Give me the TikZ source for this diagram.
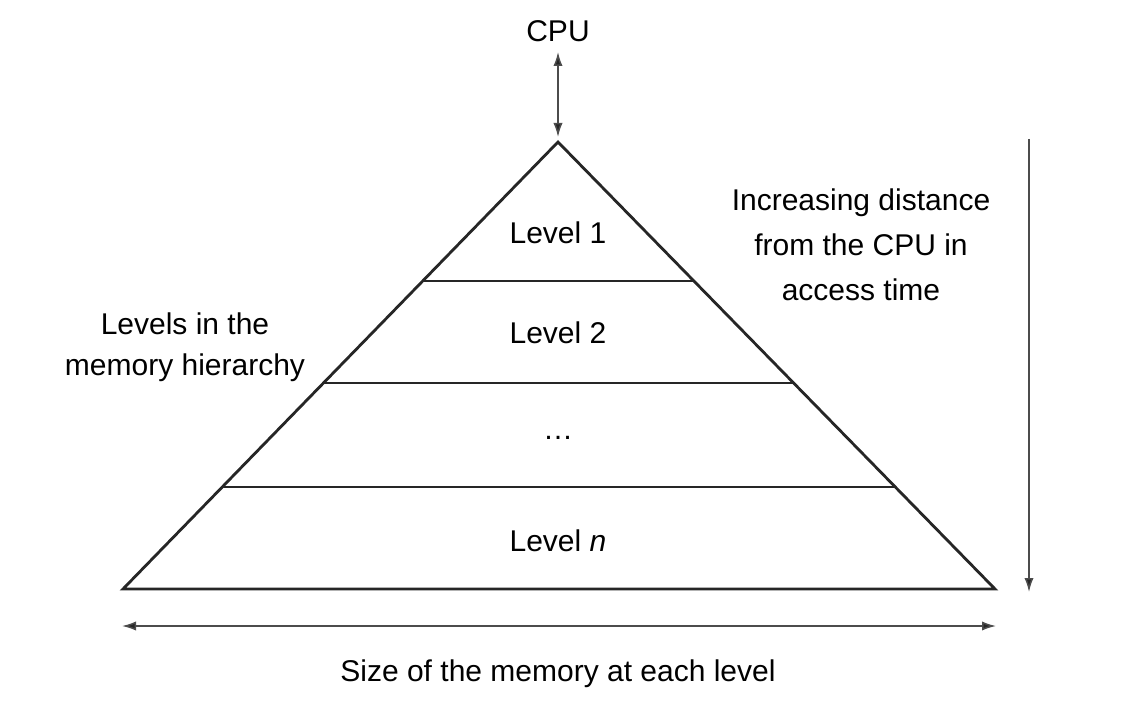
\documentclass[tikz,border=0pt]{standalone}
\usepackage{fontspec}
\setmainfont{Liberation Sans}
\usetikzlibrary{positioning,calc,arrows.meta}

\begin{document}
\begin{tikzpicture}[x=0.5pt,y=-0.5pt,font=\fontsize{15}{18}\selectfont]
  % canvas: 1142 x 722 (pixel grid, y downward)
  \useasboundingbox (0,0) rectangle (1142,722);
  \tikzset{wall/.style={draw=black!85,line width=1.4pt,line join=miter},
           tier/.style={draw=black!85,line width=1.4pt},
           dimline/.style={draw=black!70,line width=0.75pt},
           lbl/.style={align=center,inner sep=0pt}}
  % pyramid corners
  \coordinate (apex) at (558,142);
  \coordinate (bl) at (123,589);
  \coordinate (br) at (995,589);
  \draw[wall] (bl) -- (apex) -- (br) -- cycle;
  % level separators: fraction down the sides
  \foreach \t/\n in {0.311/a,0.539/b,0.772/c}
    \draw[tier] ($(apex)!\t!(bl)$) coordinate (sl\n) -- ($(apex)!\t!(br)$) coordinate (sr\n);
  % level labels
  \node[lbl] (lev1) at (558,233) {Level 1};
  \node[lbl] (lev2) at (558,333) {Level 2};
  \node[lbl] (levd) at (558,438) {\dots};
  \node[lbl] (levn) at (558,541) {Level \textit{n}};
  % CPU link
  \node[lbl] (cpu) at (558,31) {CPU};
  \coordinate (cputop) at (558,52);
  \coordinate (cpubot) at (558,137);
  \draw[dimline,{Latex[length=7pt,width=4.6pt,fill=black!85]}-{Latex[length=7pt,width=4.6pt,fill=black!85]}] (cputop) -- (cpubot);
  % distance arrow on the right
  \coordinate (dtop) at (1029,139);
  \coordinate (dbot) at (1029,592);
  \draw[dimline,-{Latex[length=7pt,width=4.6pt,fill=black!85]}] (dtop) -- (dbot);
  \node[lbl,font=\fontsize{15}{22.5}\selectfont] (dist) at (861,245)
    {Increasing distance\\from the CPU in\\access time};
  % size arrow below
  \coordinate (sleft) at (122,626);
  \coordinate (sright) at (996,626);
  \draw[dimline,{Latex[length=7pt,width=4.6pt,fill=black!85]}-{Latex[length=7pt,width=4.6pt,fill=black!85]}] (sleft) -- (sright);
  \node[lbl] (size) at (558,674) {Size of the memory at each level};
  % hierarchy caption
  \node[lbl,font=\fontsize{15}{20.5}\selectfont] (hier) at (185,347)
    {Levels in the\\memory hierarchy};
\end{tikzpicture}
\end{document}
